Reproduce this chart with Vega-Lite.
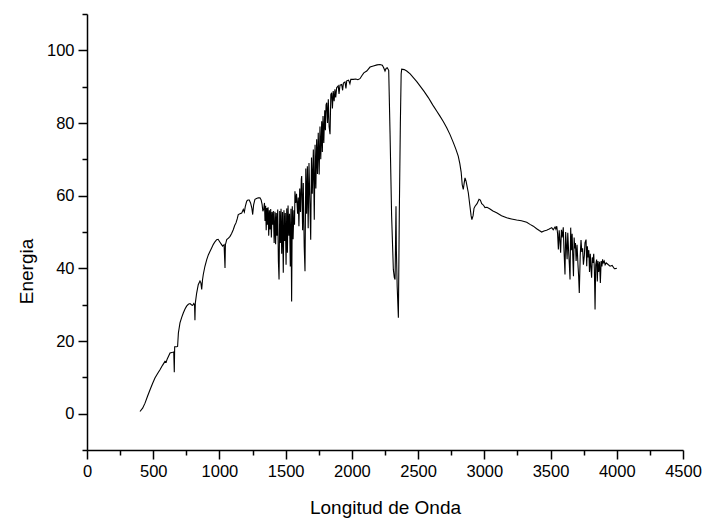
{
  "$schema": "https://vega.github.io/schema/vega-lite/v6.json",
  "autosize": "none",
  "width": 596,
  "height": 436,
  "padding": {"left": 87, "top": 14, "right": 20, "bottom": 69},
  "background": "white",
  "config": {
    "view": {"stroke": null},
    "font": "Liberation Sans",
    "axis": {
      "grid": false,
      "domainColor": "black",
      "domainWidth": 1.5,
      "tickColor": "black",
      "tickWidth": 1.5,
      "labelColor": "black",
      "labelFont": "Liberation Sans",
      "labelFontSize": 16.5,
      "titleFont": "Liberation Sans",
      "titleFontSize": 19,
      "titleFontWeight": "normal",
      "titleColor": "black"
    }
  },
  "data": {
    "values": [
      {"x":400,"y":0.6},{"x":420,"y":1.5},{"x":438,"y":2.9},{"x":457,"y":4.8},{"x":476,"y":6.6},{"x":495,"y":8.3},{"x":513,"y":9.8},{"x":532,"y":11.0},{"x":551,"y":12.1},{"x":570,"y":13.3},{"x":589,"y":14.4},{"x":598,"y":14.2},{"x":605,"y":15.0},{"x":627,"y":16.7},{"x":647,"y":16.9},{"x":655,"y":17.0},{"x":659,"y":11.4},{"x":662,"y":18.4},{"x":677,"y":18.4},{"x":684,"y":18.5},{"x":690,"y":22.2},{"x":702,"y":25.0},{"x":715,"y":26.5},{"x":727,"y":27.7},{"x":740,"y":28.8},{"x":752,"y":29.6},{"x":765,"y":30.1},{"x":778,"y":30.3},{"x":790,"y":29.9},{"x":798,"y":29.8},{"x":806,"y":30.3},{"x":812,"y":30.0},{"x":815,"y":25.7},{"x":818,"y":30.5},{"x":828,"y":33.2},{"x":840,"y":35.5},{"x":853,"y":36.5},{"x":860,"y":36.0},{"x":866,"y":34.2},{"x":872,"y":36.8},{"x":878,"y":38.3},{"x":890,"y":40.5},{"x":904,"y":42.4},{"x":916,"y":43.7},{"x":929,"y":44.7},{"x":941,"y":45.6},{"x":954,"y":46.6},{"x":966,"y":47.3},{"x":979,"y":47.9},{"x":990,"y":48.0},{"x":1004,"y":47.2},{"x":1015,"y":46.6},{"x":1024,"y":46.1},{"x":1035,"y":46.5},{"x":1040,"y":42.0},{"x":1042,"y":40.1},{"x":1045,"y":46.5},{"x":1055,"y":47.9},{"x":1068,"y":48.3},{"x":1080,"y":48.8},{"x":1092,"y":49.6},{"x":1105,"y":50.7},{"x":1115,"y":51.8},{"x":1125,"y":52.5},{"x":1134,"y":53.6},{"x":1142,"y":54.8},{"x":1155,"y":55.0},{"x":1168,"y":55.2},{"x":1175,"y":55.8},{"x":1180,"y":56.2},{"x":1188,"y":55.5},{"x":1195,"y":57.0},{"x":1206,"y":58.5},{"x":1215,"y":58.8},{"x":1225,"y":58.8},{"x":1235,"y":58.0},{"x":1245,"y":56.5},{"x":1251,"y":54.8},{"x":1258,"y":57.5},{"x":1268,"y":59.0},{"x":1280,"y":59.2},{"x":1293,"y":59.4},{"x":1306,"y":59.4},{"x":1315,"y":58.8},{"x":1322,"y":57.6},{"x":1328,"y":55.7},{"x":1335,"y":56.5},
      {"x":1340,"y":58.0},{"x":1344,"y":53.0},{"x":1349,"y":57.2},{"x":1353,"y":50.5},{"x":1358,"y":56.6},{"x":1362,"y":52.0},{"x":1367,"y":56.8},{"x":1372,"y":49.0},{"x":1377,"y":56.0},{"x":1382,"y":50.7},{"x":1387,"y":56.3},{"x":1392,"y":48.5},{"x":1397,"y":55.5},{"x":1402,"y":52.0},{"x":1407,"y":55.8},{"x":1413,"y":47.0},{"x":1419,"y":55.6},{"x":1424,"y":46.6},{"x":1429,"y":55.2},{"x":1434,"y":49.0},{"x":1440,"y":56.2},{"x":1445,"y":42.0},{"x":1450,"y":36.9},{"x":1455,"y":55.8},{"x":1460,"y":47.0},{"x":1465,"y":56.4},{"x":1470,"y":44.0},{"x":1476,"y":55.5},{"x":1482,"y":38.8},{"x":1487,"y":56.0},{"x":1492,"y":47.5},{"x":1497,"y":55.2},{"x":1503,"y":41.0},{"x":1508,"y":56.5},{"x":1513,"y":44.3},{"x":1518,"y":57.3},{"x":1524,"y":49.0},{"x":1529,"y":55.0},{"x":1535,"y":40.5},{"x":1540,"y":56.4},{"x":1545,"y":30.9},{"x":1550,"y":57.1},{"x":1556,"y":48.0},{"x":1562,"y":56.0},{"x":1567,"y":52.0},{"x":1570,"y":61.2},{"x":1576,"y":58.0},{"x":1582,"y":60.5},{"x":1590,"y":55.0},{"x":1595,"y":59.5},{"x":1600,"y":51.6},{"x":1606,"y":62.0},{"x":1612,"y":55.5},{"x":1618,"y":64.5},{"x":1621,"y":65.4},{"x":1628,"y":50.5},{"x":1633,"y":63.5},{"x":1640,"y":46.0},{"x":1646,"y":39.2},{"x":1652,"y":67.5},{"x":1658,"y":55.0},{"x":1664,"y":68.1},{"x":1670,"y":51.0},{"x":1676,"y":69.0},{"x":1683,"y":58.0},{"x":1689,"y":47.9},{"x":1695,"y":70.5},{"x":1701,"y":60.5},{"x":1709,"y":72.7},{"x":1716,"y":53.4},{"x":1722,"y":74.0},{"x":1728,"y":62.0},{"x":1734,"y":75.5},{"x":1740,"y":66.0},{"x":1746,"y":77.3},{"x":1753,"y":65.8},{"x":1759,"y":79.0},{"x":1765,"y":70.0},{"x":1772,"y":80.5},{"x":1777,"y":72.0},{"x":1782,"y":81.9},{"x":1788,"y":74.5},{"x":1795,"y":83.5},{"x":1800,"y":78.0},{"x":1805,"y":85.0},{"x":1810,"y":85.6},{"x":1816,"y":80.0},{"x":1822,"y":86.5},{"x":1828,"y":79.0},{"x":1835,"y":76.9},{"x":1841,"y":87.8},{"x":1847,"y":88.3},{"x":1853,"y":84.0},{"x":1859,"y":88.8},{"x":1866,"y":86.0},{"x":1872,"y":89.3},{"x":1878,"y":87.0},{"x":1885,"y":89.7},{"x":1897,"y":90.2},{"x":1903,"y":88.0},{"x":1910,"y":90.4},{"x":1923,"y":90.6},{"x":1930,"y":89.0},{"x":1936,"y":91.0},{"x":1948,"y":91.3},{"x":1955,"y":89.5},{"x":1961,"y":91.6},{"x":1975,"y":91.8},{"x":1985,"y":90.8},{"x":1992,"y":92.0},{"x":2011,"y":92.0},{"x":2030,"y":92.1},{"x":2045,"y":91.9},{"x":2061,"y":92.2},{"x":2075,"y":93.0},{"x":2090,"y":93.8},{"x":2112,"y":94.3},{"x":2137,"y":95.4},{"x":2162,"y":95.7},{"x":2190,"y":96.0},{"x":2212,"y":96.1},{"x":2230,"y":95.9},{"x":2240,"y":95.2},{"x":2250,"y":94.3},{"x":2258,"y":95.0},{"x":2267,"y":95.2},{"x":2278,"y":94.5},{"x":2288,"y":77.3},{"x":2300,"y":54.4},{"x":2313,"y":39.7},{"x":2320,"y":37.5},{"x":2326,"y":36.9},{"x":2330,"y":48.0},{"x":2333,"y":57.1},{"x":2336,"y":45.0},{"x":2342,"y":35.0},{"x":2351,"y":26.4},{"x":2358,"y":55.0},{"x":2366,"y":80.0},{"x":2372,"y":93.5},{"x":2376,"y":94.8},{"x":2395,"y":94.7},{"x":2414,"y":94.3},{"x":2440,"y":93.5},{"x":2464,"y":92.5},{"x":2490,"y":91.4},{"x":2514,"y":90.2},{"x":2545,"y":88.7},{"x":2577,"y":87.0},{"x":2600,"y":85.6},{"x":2615,"y":84.7},{"x":2640,"y":83.3},{"x":2665,"y":81.9},{"x":2690,"y":80.4},{"x":2716,"y":78.7},{"x":2741,"y":76.8},{"x":2766,"y":74.6},{"x":2785,"y":72.8},{"x":2803,"y":70.9},{"x":2815,"y":68.8},{"x":2825,"y":66.5},{"x":2833,"y":63.0},{"x":2841,"y":61.7},{"x":2848,"y":63.5},{"x":2854,"y":64.9},{"x":2862,"y":64.0},{"x":2870,"y":62.5},{"x":2879,"y":60.8},{"x":2890,"y":57.5},{"x":2900,"y":54.5},{"x":2906,"y":53.4},{"x":2915,"y":54.5},{"x":2922,"y":56.5},{"x":2930,"y":57.1},{"x":2945,"y":57.8},{"x":2960,"y":59.0},{"x":2970,"y":58.8},{"x":2980,"y":57.8},{"x":2987,"y":57.6},{"x":2995,"y":57.3},{"x":3005,"y":56.7},{"x":3020,"y":56.8},{"x":3040,"y":56.4},{"x":3065,"y":55.8},{"x":3093,"y":55.3},{"x":3130,"y":54.5},{"x":3169,"y":53.9},{"x":3205,"y":53.6},{"x":3244,"y":53.3},{"x":3280,"y":53.1},{"x":3320,"y":52.7},{"x":3345,"y":52.1},{"x":3370,"y":51.6},{"x":3395,"y":50.9},{"x":3415,"y":50.4},{"x":3433,"y":50.0},{"x":3450,"y":50.3},{"x":3470,"y":50.5},{"x":3490,"y":50.8},{"x":3509,"y":51.2},{"x":3520,"y":50.6},{"x":3534,"y":51.4},{"x":3540,"y":50.8},{"x":3547,"y":51.6},{"x":3553,"y":49.5},{"x":3559,"y":45.2},{"x":3565,"y":50.5},{"x":3570,"y":48.0},{"x":3576,"y":44.3},{"x":3582,"y":50.6},{"x":3588,"y":48.5},{"x":3596,"y":51.3},{"x":3601,"y":45.5},{"x":3609,"y":38.3},{"x":3614,"y":50.0},{"x":3620,"y":46.0},{"x":3625,"y":42.5},{"x":3630,"y":49.8},{"x":3636,"y":45.0},{"x":3642,"y":41.0},{"x":3647,"y":36.9},{"x":3652,"y":51.2},{"x":3657,"y":45.0},{"x":3663,"y":49.5},{"x":3668,"y":43.0},{"x":3673,"y":37.8},{"x":3678,"y":48.5},{"x":3683,"y":45.5},{"x":3688,"y":47.0},{"x":3693,"y":42.0},{"x":3700,"y":46.5},{"x":3707,"y":41.0},{"x":3712,"y":37.8},{"x":3717,"y":33.2},{"x":3724,"y":43.5},{"x":3730,"y":47.8},{"x":3736,"y":44.5},{"x":3742,"y":45.5},{"x":3748,"y":41.0},{"x":3755,"y":43.5},{"x":3760,"y":47.0},{"x":3768,"y":47.9},{"x":3773,"y":40.6},{"x":3778,"y":46.1},{"x":3783,"y":43.0},{"x":3789,"y":45.0},{"x":3794,"y":39.0},{"x":3800,"y":44.0},{"x":3805,"y":40.0},{"x":3810,"y":37.4},{"x":3815,"y":43.0},{"x":3820,"y":41.5},{"x":3826,"y":44.0},{"x":3831,"y":39.5},{"x":3836,"y":28.7},{"x":3841,"y":41.0},{"x":3848,"y":42.4},{"x":3853,"y":36.4},{"x":3858,"y":42.0},{"x":3863,"y":39.0},{"x":3870,"y":41.8},{"x":3876,"y":36.0},{"x":3882,"y":42.0},{"x":3888,"y":40.5},{"x":3893,"y":42.5},{"x":3898,"y":41.5},{"x":3905,"y":42.0},{"x":3912,"y":41.0},{"x":3920,"y":41.5},{"x":3930,"y":41.2},{"x":3949,"y":40.6},{"x":3965,"y":40.8},{"x":3982,"y":39.9},{"x":4000,"y":40.0}
    ]
  },
  "mark": {"type": "line", "color": "black", "strokeWidth": 1.1, "interpolate": "linear"},
  "encoding": {
    "x": {
      "field": "x", "type": "quantitative",
      "scale": {"domain": [0, 4500], "nice": false, "zero": false},
      "axis": {
        "title": "Longitud de Onda",
        "values": [0,250,500,750,1000,1250,1500,1750,2000,2250,2500,2750,3000,3250,3500,3750,4000,4250,4500],
        "labelExpr": "datum.value % 500 === 0 ? datum.label : ''",
        "format": "d",
        "tickSize": {"condition": {"test": "datum.value % 500 === 0", "value": 9}, "value": 5},
        "labelPadding": 4,
        "labelFlush": false,
        "labelOverlap": false,
        "titlePadding": 19
      }
    },
    "y": {
      "field": "y", "type": "quantitative",
      "scale": {"domain": [-10, 110], "nice": false, "zero": false},
      "axis": {
        "title": "Energia",
        "values": [-10,0,10,20,30,40,50,60,70,80,90,100,110],
        "labelExpr": "datum.value % 20 === 0 ? datum.label : ''",
        "format": "d",
        "tickSize": {"condition": {"test": "datum.value % 20 === 0", "value": 9}, "value": 5},
        "labelPadding": 4,
        "labelFlush": false,
        "labelOverlap": false,
        "titlePadding": 10,
        "titleY": 257
      }
    }
  }
}
